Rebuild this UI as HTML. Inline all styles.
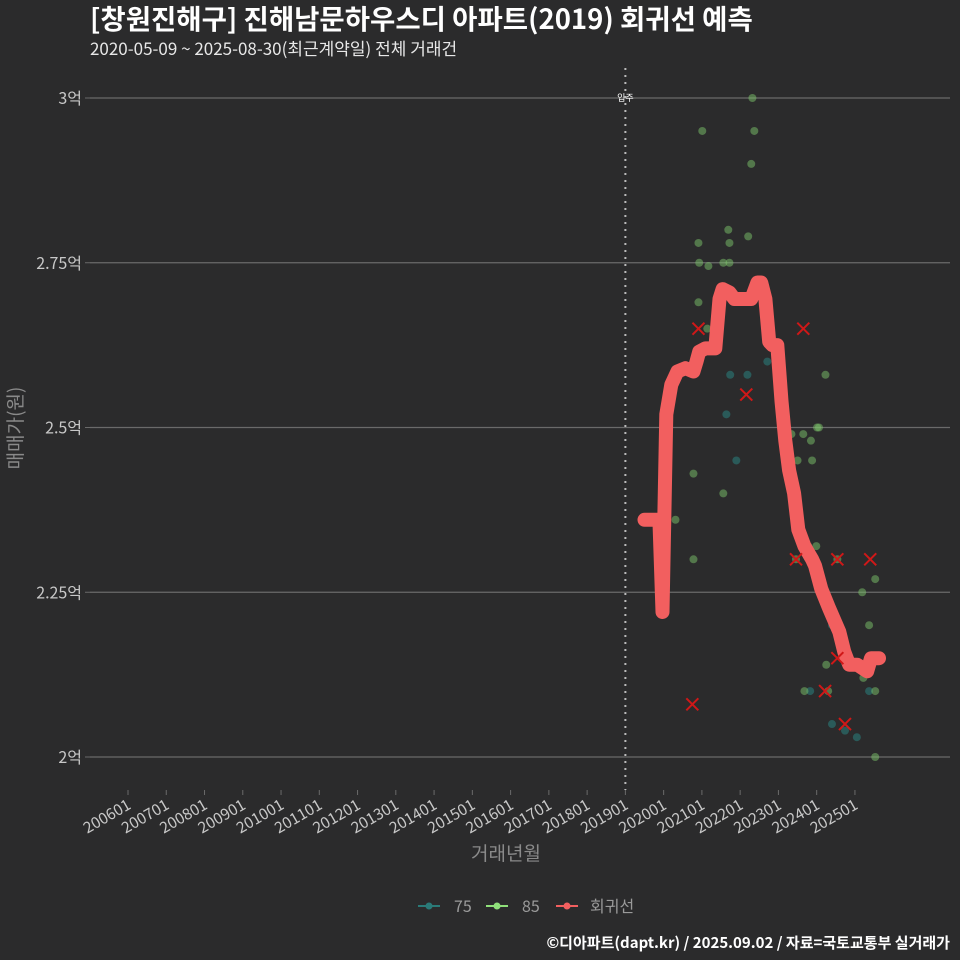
<!DOCTYPE html>
<html><head><meta charset="utf-8">
<style>
body{margin:0;background:#2b2b2c;}
svg{display:block;font-family:"Noto Sans CJK KR","Liberation Sans",sans-serif;}
</style></head>
<body>
<svg id="chart" width="960" height="960" viewBox="0 0 960 960">
<rect width="960" height="960" fill="#2b2b2c"/>
<text x="90" y="29" font-size="27.5" font-weight="bold" fill="#ffffff">[창원진해구] 진해남문하우스디 아파트(2019) 회귀선 예측</text>
<text x="90" y="55" font-size="17" fill="#e8e8e8">2020-05-09 ~ 2025-08-30(최근계약일) 전체 거래건</text>
<text transform="translate(22,428) rotate(-90)" text-anchor="middle" font-size="19" fill="#8a8a8a">매매가(원)</text>
<text x="506" y="860" text-anchor="middle" font-size="19" fill="#8a8a8a">거래년월</text>
<g id="grid"></g><g id="xaxis"></g><g id="marks"></g>
<g>
 <g><line x1="418" y1="906" x2="440" y2="906" stroke="#2a7a78" stroke-width="2"/><circle cx="429" cy="906" r="3.5" fill="#2a7a78"/><text x="454" y="912" font-size="16" fill="#9a9a9a">75</text></g>
 <g><line x1="486" y1="906" x2="508" y2="906" stroke="#8fe07a" stroke-width="2"/><circle cx="497" cy="906" r="3.5" fill="#8fe07a"/><text x="522" y="912" font-size="16" fill="#9a9a9a">85</text></g>
 <g><line x1="556" y1="906" x2="578" y2="906" stroke="#f25f5f" stroke-width="2"/><circle cx="567" cy="906" r="3.5" fill="#f25f5f"/><text x="590" y="912" font-size="16" fill="#9a9a9a">회귀선</text></g>
</g>
<text x="950" y="948" text-anchor="end" font-size="15" font-weight="bold" fill="#ffffff">©디아파트(dapt.kr) / 2025.09.02 / 자료=국토교통부 실거래가</text>
</svg>
<script>
const yTicks=[2,2.25,2.5,2.75,3];
const yTickLabels=["2억","2.25억","2.5억","2.75억","3억"];
const xTickYears=[2006,2007,2008,2009,2010,2011,2012,2013,2014,2015,2016,2017,2018,2019,2020,2021,2022,2023,2024,2025];
const xTickLabels=["200601","200701","200801","200901","201001","201101","201201","201301","201401","201501","201601","201701","201801","201901","202001","202101","202201","202301","202401","202501"];
const g85T=[2021.01,2020.91,2020.93,2020.91,2021.17,2021.14,2021.38,2021.35,2021.69,2021.72,2021.72,2021.56,2021.56,2020.78,2020.78,2020.31,2022.21,2022.32,2022.37,2022.29,2023.46,2023.78,2023.85,2023.88,2024.01,2024.06,2024.23,2023.68,2023.99,2024.25,2024.30,2024.54,2025.19,2025.53,2025.37,2025.22,2025.53,2025.53,2023.50,2023.65,2023.34];
const g85V=[2.95,2.78,2.75,2.69,2.745,2.65,2.65,2.67,2.80,2.78,2.75,2.75,2.40,2.43,2.30,2.36,2.79,3.00,2.95,2.90,2.30,2.32,2.48,2.45,2.50,2.50,2.58,2.10,2.32,2.14,2.10,2.30,2.25,2.27,2.20,2.12,2.10,2.00,2.45,2.49,2.49];
const g75T=[2021.74,2022.19,2021.64,2022.71,2021.90,2023.83,2024.40,2024.40,2024.74,2025.05,2025.37];
const g75V=[2.58,2.58,2.52,2.60,2.45,2.10,2.20,2.05,2.04,2.03,2.10];
const outT=[2020.91,2022.16,2023.65,2020.75,2023.46,2024.54,2025.40,2024.22,2024.54,2024.74];
const outV=[2.65,2.55,2.65,2.08,2.30,2.30,2.30,2.10,2.15,2.05];
const regT=[2019.50,2019.89,2019.97,2020.07,2020.20,2020.36,2020.57,2020.78,2020.86,2020.93,2021.09,2021.35,2021.46,2021.54,2021.72,2021.85,2022.11,2022.29,2022.45,2022.55,2022.66,2022.76,2022.84,2022.97,2023.08,2023.18,2023.28,2023.41,2023.52,2023.68,2023.88,2023.96,2024.12,2024.33,2024.59,2024.72,2024.85,2025.06,2025.32,2025.42,2025.63];
const regV=[2.36,2.36,2.22,2.52,2.565,2.585,2.59,2.585,2.60,2.615,2.62,2.62,2.695,2.71,2.705,2.695,2.695,2.695,2.72,2.72,2.695,2.63,2.625,2.625,2.54,2.48,2.435,2.40,2.345,2.32,2.30,2.29,2.255,2.225,2.19,2.16,2.14,2.14,2.13,2.15,2.15];
const moveInYear=2019;

const NS="http://www.w3.org/2000/svg";
function X(t){return 128+(t-2006)*38.26;}
function Y(v){return 757-(v-2)*659;}
function mk(tag,attrs,parent){const e=document.createElementNS(NS,tag);for(const k in attrs)e.setAttribute(k,attrs[k]);parent.appendChild(e);return e;}
const grid=document.getElementById('grid'),xa=document.getElementById('xaxis'),marks=document.getElementById('marks');
yTicks.forEach((v,i)=>{
 const l=mk('line',{x1:90,x2:950,y1:Y(v),y2:Y(v),stroke:'#6a6a6a','stroke-width':1.2},grid);
 
 
 const tk=mk('line',{x1:85,x2:90,y1:Y(v),y2:Y(v),stroke:'#6a6a6a'},grid);
 
 
 const t=mk('text',{x:82,y:Y(v)+6,'text-anchor':'end','font-size':16,fill:'#c8c8c8'},grid);
 t.textContent=yTickLabels[i];
 
 
});
xTickYears.forEach((yr,i)=>{
 const x=X(yr);
 const tk=mk('line',{x1:x,x2:x,y1:790,y2:795,stroke:'#6a6a6a'},xa);
 
 
 const t=mk('text',{x:x+4,y:808,'text-anchor':'end','font-size':15.5,fill:'#c8c8c8',transform:`rotate(-30 ${x+4} 808)`},xa);
 t.textContent=xTickLabels[i];
 
 
});
const vl=mk('line',{x1:X(moveInYear),x2:X(moveInYear),y1:68,y2:790,stroke:'#bbbbbb','stroke-width':2,'stroke-dasharray':'2 5'},marks);


const vt=mk('text',{x:X(moveInYear),y:101,'text-anchor':'middle','font-size':9,fill:'#ffffff'},marks);
vt.textContent='입주';


g75T.forEach((t,i)=>{
 const c=mk('circle',{cx:X(t),cy:Y(g75V[i]),r:4,fill:'#2a7a78','fill-opacity':0.6},marks);
 
 
});
g85T.forEach((t,i)=>{
 const c=mk('circle',{cx:X(t),cy:Y(g85V[i]),r:4,fill:'#7cc46a','fill-opacity':0.5},marks);
 
 
});
const pts=regT.map((t,i)=>X(t).toFixed(1)+','+Y(regV[i]).toFixed(1)).join(' ');
const pl=mk('polyline',{points:pts,fill:'none',stroke:'#f25f5f','stroke-width':14,'stroke-linejoin':'round','stroke-linecap':'round'},marks);


outT.forEach((t,i)=>{
 const x=X(t),y=Y(outV[i]);
 const p=mk('path',{d:`M${x-6},${y-6}L${x+6},${y+6}M${x-6},${y+6}L${x+6},${y-6}`,stroke:'#d01818','stroke-width':2},marks);
 
 
});
</script>
</body></html>
